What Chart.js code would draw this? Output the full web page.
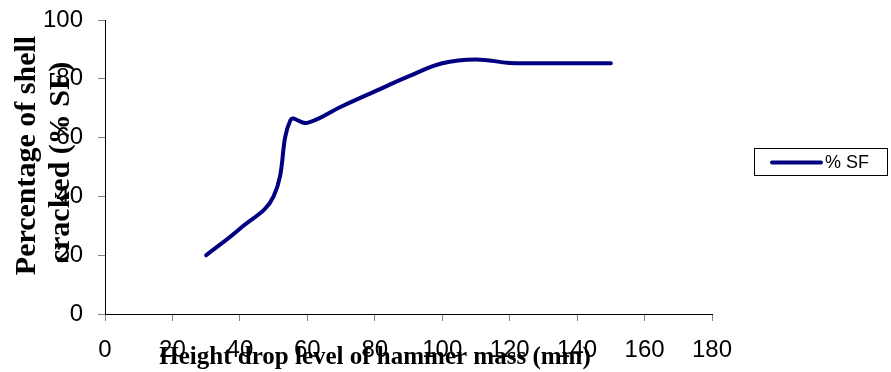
<!DOCTYPE html>
<html>
<head>
<meta charset="utf-8">
<script src="https://cdn.jsdelivr.net/npm/chart.js@4/dist/chart.umd.min.js"></script>
<style>
  html, body { margin: 0; padding: 0; background: #fff; }
  #wrap { width: 891px; height: 372px; position: relative; }
</style>
</head>
<body>
<div id="wrap"><canvas id="c" width="891" height="372"></canvas></div>
<script>
// Drop height of the hammer (mm) and share of shells cracked (%)
const heights = [30, 40, 50, 55, 60, 70, 80, 90, 100, 110, 120, 130, 140, 150];
const crackedPct = [20, 29, 40, 66, 65, 70.5, 75.7, 80.8, 85.3, 86.6, 85.4, 85.3, 85.3, 85.3];
const xTicks = [0, 20, 40, 60, 80, 100, 120, 140, 160, 180];
const yTicks = [0, 20, 40, 60, 80, 100];
const seriesName = '% SF';
const xTitle = 'Height drop level of hammer mass (mm)';
const yTitleLines = ['Percentage of shell', 'cracked (% SF)'];

const LINE_COLOR = '#000080';
const TICK_FONT = { family: '"Liberation Sans", Arial, sans-serif', size: 24 };
const TITLE_FAMILY = '"Liberation Serif", "Times New Roman", serif';

const points = heights.map((h, i) => ({ x: h, y: crackedPct[i] }));

// Axis titles and boxed legend, drawn on top of the chart
const decorations = {
  id: 'decorations',
  afterDraw(chart) {
    const ctx = chart.ctx;
    ctx.save();
    ctx.fillStyle = '#000';
    ctx.textAlign = 'center';

    // x axis title
    ctx.textBaseline = 'middle';
    ctx.font = 'bold 25px ' + TITLE_FAMILY;
    ctx.fillText(xTitle, 375, 358);

    // y axis title, two rotated lines
    ctx.textBaseline = 'alphabetic';
    ctx.font = 'bold 30px ' + TITLE_FAMILY;
    ctx.save();
    ctx.translate(35, 155.5);
    ctx.rotate(-Math.PI / 2);
    ctx.fillText(yTitleLines[0], 0, 0);
    ctx.restore();
    ctx.save();
    ctx.translate(68.5, 162.5);
    ctx.rotate(-Math.PI / 2);
    ctx.fillText(yTitleLines[1], 0, 0);
    ctx.restore();

    // legend
    const ds = chart.data.datasets[0];
    ctx.strokeStyle = '#000';
    ctx.lineWidth = 1;
    ctx.strokeRect(754.5, 148.5, 133, 27);
    ctx.strokeStyle = ds.borderColor;
    ctx.lineWidth = 4;
    ctx.lineCap = 'round';
    ctx.beginPath();
    ctx.moveTo(772, 162.5);
    ctx.lineTo(821, 162.5);
    ctx.stroke();
    ctx.font = '18px "Liberation Sans", Arial, sans-serif';
    ctx.textAlign = 'left';
    ctx.textBaseline = 'middle';
    ctx.fillStyle = '#000';
    ctx.fillText(ds.label, 825, 163);
    ctx.restore();
  }
};

new Chart(document.getElementById('c'), {
  type: 'scatter',
  data: {
    datasets: [{
      label: seriesName,
      data: points,
      showLine: true,
      borderColor: LINE_COLOR,
      backgroundColor: LINE_COLOR,
      borderWidth: 4,
      borderCapStyle: 'round',
      tension: 0.4,
      pointRadius: 0,
      pointHoverRadius: 0
    }]
  },
  options: {
    responsive: false,
    animation: false,
    devicePixelRatio: 1,
    layout: { padding: { top: 20, right: 179, left: 0, bottom: 0 } },
    plugins: {
      legend: { display: false },
      tooltip: { enabled: false }
    },
    scales: {
      x: {
        type: 'linear',
        min: 0,
        max: 180,
        afterFit(scale) {
          scale.height = 58;
          scale.paddingLeft = 0;
          scale.paddingRight = 0;
        },
        afterBuildTicks(scale) { scale.ticks = xTicks.map(v => ({ value: v })); },
        ticks: { font: TICK_FONT, color: '#000', padding: 15, maxRotation: 0, autoSkip: false },
        grid: { drawOnChartArea: false, drawTicks: true, tickLength: 7, color: '#808080' },
        border: { display: true, color: '#000', width: 1 }
      },
      y: {
        type: 'linear',
        min: 0,
        max: 100,
        afterFit(scale) {
          scale.width = 105;
          scale.paddingTop = 0;
          scale.paddingBottom = 0;
        },
        afterBuildTicks(scale) { scale.ticks = yTicks.map(v => ({ value: v })); },
        ticks: { font: TICK_FONT, color: '#000', padding: 15 },
        grid: { drawOnChartArea: false, drawTicks: true, tickLength: 7, color: '#808080' },
        border: { display: true, color: '#000', width: 1 }
      }
    }
  },
  plugins: [decorations]
});
</script>
</body>
</html>
